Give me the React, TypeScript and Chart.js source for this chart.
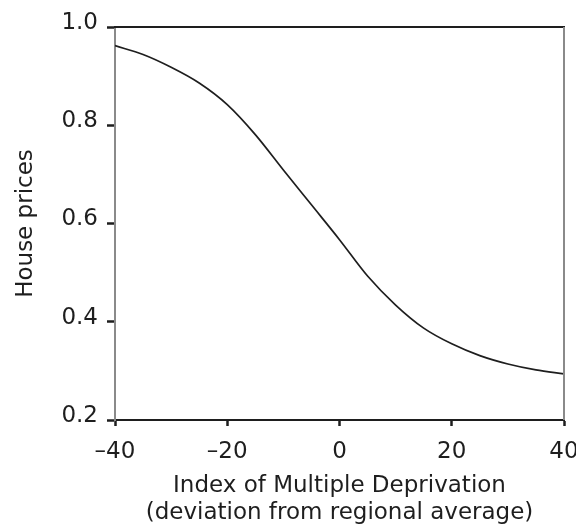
import React, { useEffect, useRef } from "react";
import { Chart, registerables } from "chart.js";

Chart.register(...registerables);

const deprivation = [-40, -35, -30, -25, -20, -15, -10, -5, 0, 5, 10, 15, 20, 25, 30, 35, 40];
const housePrices = [0.962, 0.944, 0.918, 0.886, 0.842, 0.781, 0.709, 0.638, 0.567, 0.493, 0.434, 0.387, 0.355, 0.331, 0.314, 0.302, 0.294];
const xTicks = [-40, -20, 0, 20, 40];
const yTicks = [0.2, 0.4, 0.6, 0.8, 1.0];
const xTitle = ["Index of Multiple Deprivation", "(deviation from regional average)"];
const yTitle = "House prices";

const FONT = "'DejaVu Sans', sans-serif";
const DARK = "#1e1e1e";
const GREY = "#8a8a8a";

const framePlugin = {
  id: "frame",
  afterDraw(chart: any) {
    const { ctx, chartArea } = chart;
    ctx.save();
    ctx.lineWidth = 2;
    ctx.strokeStyle = DARK;
    ctx.beginPath();
    ctx.moveTo(chartArea.left - 1, chartArea.top);
    ctx.lineTo(chartArea.right + 1, chartArea.top);
    ctx.stroke();
    ctx.strokeStyle = GREY;
    ctx.beginPath();
    ctx.moveTo(chartArea.right, chartArea.top);
    ctx.lineTo(chartArea.right, chartArea.bottom);
    ctx.stroke();
    ctx.restore();
  },
};

export default function App() {
  const ref = useRef<HTMLCanvasElement | null>(null);

  useEffect(() => {
    if (!ref.current) return;
    const chart = new Chart(ref.current, {
      type: "line",
      data: {
        datasets: [
          {
            data: deprivation.map((x, i) => ({ x, y: housePrices[i] })),
            borderColor: DARK,
            borderWidth: 1.7,
            pointRadius: 0,
            cubicInterpolationMode: "monotone",
            fill: false,
          },
        ],
      },
      options: {
        animation: false,
        responsive: false,
        maintainAspectRatio: false,
        layout: { padding: { left: 0, right: 12, top: 27, bottom: 0 } },
        plugins: { legend: { display: false }, tooltip: { enabled: false } },
        scales: {
          x: {
            type: "linear",
            min: -40,
            max: 40,
            afterBuildTicks: (scale: any) => {
              scale.ticks = xTicks.map((v) => ({ value: v }));
            },
            afterFit: (scale: any) => {
              scale.height = 111;
              scale.paddingLeft = 0;
              scale.paddingRight = 0;
            },
            ticks: {
              color: DARK,
              font: { family: FONT, size: 23 },
              padding: 12,
              maxRotation: 0,
              autoSkip: false,
              callback: (v: any) => (Number(v) < 0 ? "\u2013" + Math.abs(Number(v)) : String(v)),
            },
            grid: {
              drawOnChartArea: false,
              drawTicks: true,
              tickLength: 6,
              tickWidth: 2.5,
              tickColor: DARK,
            },
            border: { display: true, color: DARK, width: 2 },
            title: {
              display: true,
              text: xTitle,
              color: DARK,
              font: { family: FONT, size: 23, lineHeight: 1.15 },
              padding: { top: 0, bottom: 5 },
            },
          },
          y: {
            type: "linear",
            min: 0.2,
            max: 1.0,
            afterBuildTicks: (scale: any) => {
              scale.ticks = yTicks.map((v) => ({ value: v }));
            },
            afterFit: (scale: any) => {
              scale.width = 115;
              scale.paddingTop = 0;
              scale.paddingBottom = 0;
            },
            ticks: {
              color: DARK,
              font: { family: FONT, size: 23 },
              padding: 9,
              labelOffset: -4,
              autoSkip: false,
              callback: (v: any) => Number(v).toFixed(1),
            },
            grid: {
              drawOnChartArea: false,
              drawTicks: true,
              tickLength: 8,
              tickWidth: 2.5,
              tickColor: DARK,
            },
            border: { display: true, color: GREY, width: 2 },
            title: {
              display: true,
              text: yTitle,
              color: DARK,
              font: { family: FONT, size: 23, lineHeight: 1.15 },
              padding: { top: 13, bottom: 0 },
            },
          },
        },
      },
      plugins: [framePlugin],
    });
    return () => chart.destroy();
  }, []);

  return (
    <div style={{ position: "fixed", left: 0, top: 0, width: 576, height: 531, background: "#fff" }}>
      <canvas ref={ref} width={576} height={531} style={{ width: 576, height: 531 }} />
    </div>
  );
}
